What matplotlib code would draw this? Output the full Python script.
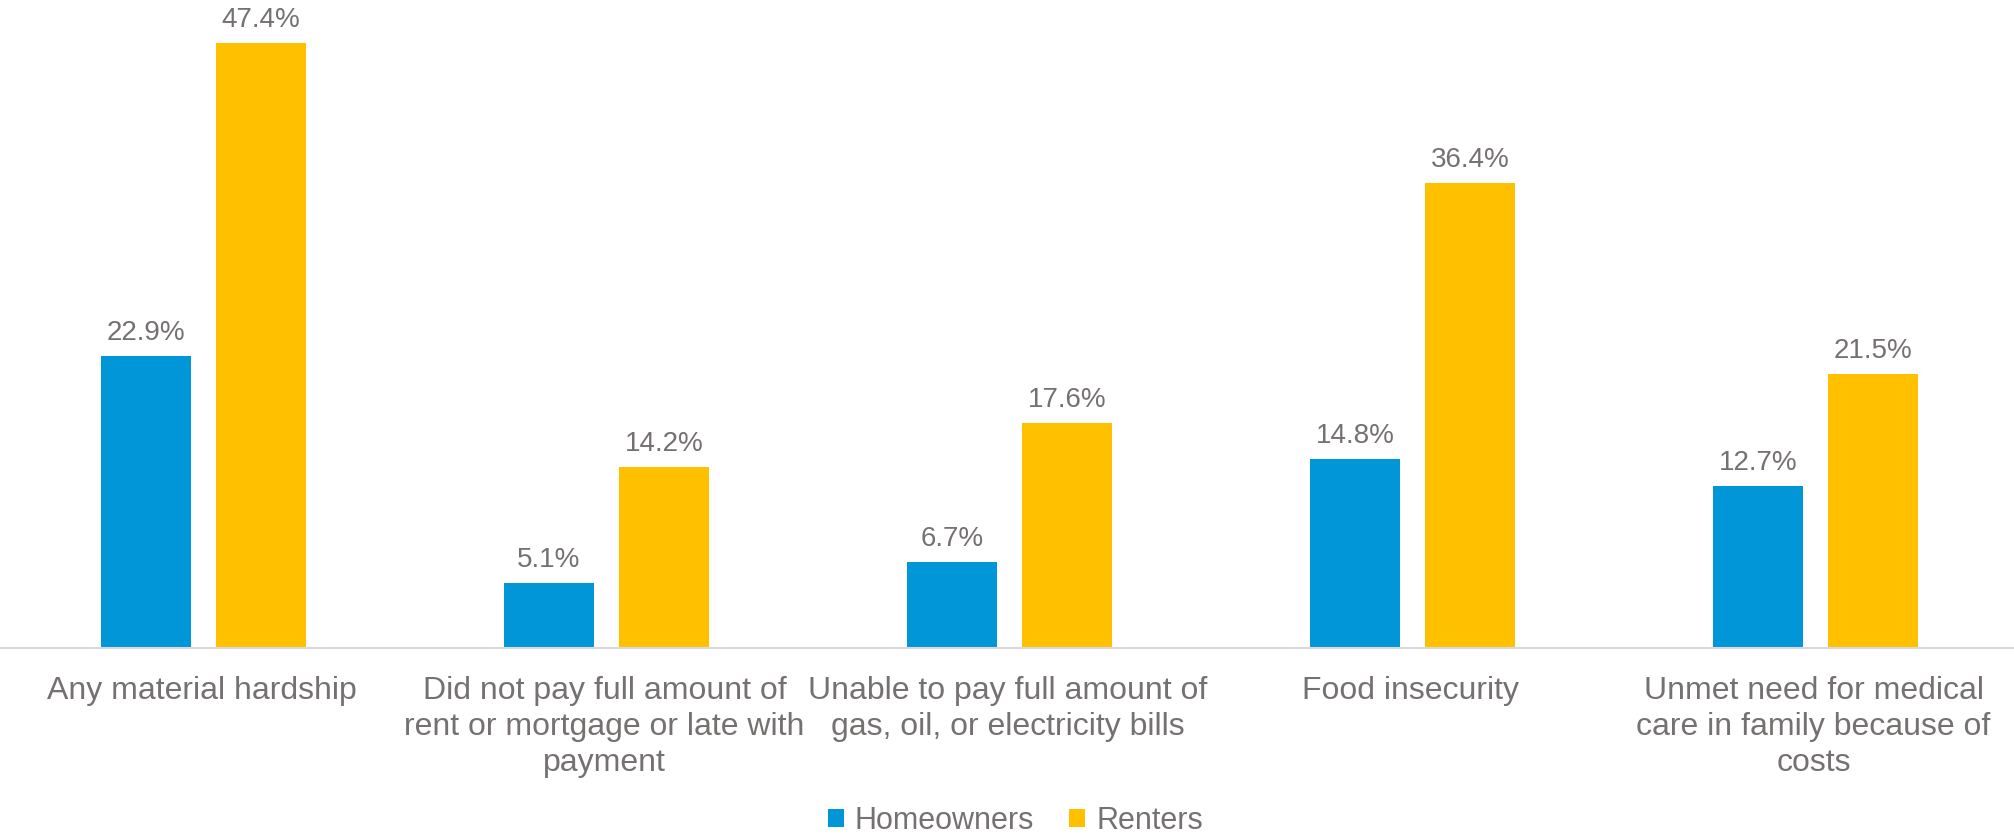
import matplotlib
matplotlib.use("Agg")
import matplotlib.pyplot as plt
from matplotlib.patches import Patch

categories = [
    "Any material hardship",
    "Did not pay full amount of\nrent or mortgage or late with\npayment",
    "Unable to pay full amount of\ngas, oil, or electricity bills",
    "Food insecurity",
    "Unmet need for medical\ncare in family because of\ncosts",
]
series_names = ["Homeowners", "Renters"]
homeowners = [22.9, 5.1, 6.7, 14.8, 12.7]
renters = [47.4, 14.2, 17.6, 36.4, 21.5]

BLUE = "#0096D7"
YELLOW = "#FFC000"
TEXT = "#767171"

plt.rcParams["font.family"] = ["Liberation Sans", "DejaVu Sans"]

DPI = 100
fig = plt.figure(figsize=(20.15, 8.36), dpi=DPI)
ax = fig.add_axes([0.0, 0.2249, 1.0, 0.7632])

x = list(range(len(categories)))
width = 0.2233
off_b, off_r = -0.1377, 0.1476
bars_b = ax.bar([i + off_b for i in x], homeowners, width, color=BLUE, label=series_names[0])
bars_r = ax.bar([i + off_r for i in x], renters, width, color=YELLOW, label=series_names[1])

ax.set_xlim(-0.5, len(categories) - 0.5)
ax.set_ylim(0, 50)

for bars, vals in ((bars_b, homeowners), (bars_r, renters)):
    for b, v in zip(bars, vals):
        ax.annotate(f"{v:.1f}%", xy=(b.get_x() + b.get_width() / 2, v),
                    xytext=(0, 16), textcoords="offset pixels",
                    ha="center", va="baseline", fontsize=20, color=TEXT)

for s in ["top", "right", "left"]:
    ax.spines[s].set_visible(False)
ax.spines["bottom"].set_color("#D9D9D9")
ax.spines["bottom"].set_linewidth(1.5)
ax.set_yticks([])
ax.set_xticks(x)
ax.set_xticklabels([])
ax.tick_params(axis="x", length=0)

for i, lab in zip(x, categories):
    ax.annotate(lab, xy=(i, 0), xycoords=("data", "axes fraction"),
                xytext=(0, -28), textcoords="offset pixels",
                ha="center", va="top", fontsize=23, color=TEXT,
                linespacing=1.27, multialignment="center")

handles = [Patch(facecolor=BLUE, edgecolor="none"), Patch(facecolor=YELLOW, edgecolor="none")]
fig.legend(handles, series_names, loc="center", bbox_to_anchor=(0.504, 0.018),
           ncol=2, frameon=False, fontsize=22, labelcolor=TEXT,
           handlelength=0.52, handleheight=0.52, handletextpad=0.35,
           columnspacing=1.15, borderpad=0, borderaxespad=0)

fig.savefig("out.png", dpi=DPI)
